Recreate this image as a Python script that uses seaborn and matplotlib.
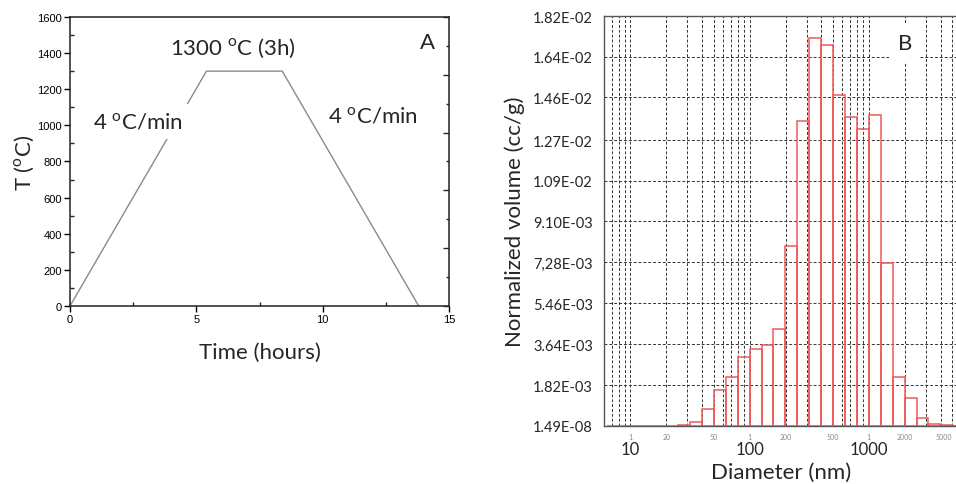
import numpy as np
import matplotlib
matplotlib.use("Agg")
import matplotlib.pyplot as plt
import matplotlib.ticker as mticker
import seaborn as sns

sns.set_style("ticks")
plt.rcParams["font.family"] = ["Lato", "DejaVu Sans"]
plt.rcParams["mathtext.fontset"] = "custom"
plt.rcParams["mathtext.rm"] = "Lato"

# ----------------------------
# Data: panel A (firing schedule)
# ----------------------------
time_h = [0, 5.4, 8.4, 13.8]
temp_c = [0, 1300, 1300, 0]
temp_ticks = [0, 200, 400, 600, 800, 1000, 1200, 1400, 1600]
time_ticks = [0, 5, 10, 15]

# ----------------------------
# Data: panel B (pore size distribution)
# log10 of bin edges, 0.1 decade per bin
# ----------------------------
log_edges = [0.8, 0.9, 1.0, 1.1, 1.2, 1.3, 1.4, 1.5, 1.6, 1.7, 1.8, 1.9, 2.0,
             2.1, 2.2, 2.3, 2.4, 2.5, 2.6, 2.7, 2.8, 2.9, 3.0, 3.1, 3.2, 3.3,
             3.4, 3.5, 3.6, 3.7, 3.8]
volume = [0, 0, 0, 0, 0, 0, 0.00005, 0.00017, 0.00074, 0.00159, 0.00216,
          0.00306, 0.00340, 0.00361, 0.00432, 0.00799, 0.01356, 0.01724,
          0.01693, 0.01470, 0.01371, 0.01320, 0.01381, 0.00726, 0.00216,
          0.00125, 0.00035, 0.00008, 0.00004, 0.00002]
vol_ticks = [0, 0.00182, 0.00364, 0.00546, 0.00728, 0.0091, 0.0109, 0.0127,
             0.0146, 0.0164, 0.0182]
vol_labels = ["1.49E-08", "1.82E-03", "3.64E-03", "5.46E-03", "7,28E-03",
              "9.10E-03", "1.09E-02", "1.27E-02", "1.46E-02", "1.64E-02",
              "1.82E-02"]
small_ticks = [10, 20, 50, 100, 200, 500, 1000, 2000, 5000]
small_labels = ["1", "20", "50", "1", "200", "500", "1", "2000", "5000"]
decade_ticks = [10, 100, 1000]

fig = plt.figure(figsize=(9.56, 4.85), dpi=100)

# ----------------------------
# Panel A
# ----------------------------
axA = fig.add_axes([0.0732, 0.367, 0.3965, 0.596])
sns.lineplot(x=time_h, y=temp_c, sort=False, color="#8a8a8a", lw=1.0, ax=axA)
axA.set_xlim(0, 15)
axA.set_ylim(0, 1600)
axA.set_xticks(time_ticks)
axA.set_yticks(temp_ticks)
axA.xaxis.set_minor_locator(mticker.MultipleLocator(2.5))
axA.yaxis.set_minor_locator(mticker.MultipleLocator(100))
axA.tick_params(which="major", direction="out", length=4, width=1,
                labelsize=8, pad=2, colors="black")
axA.tick_params(which="minor", direction="in", length=3, width=1)
for s in axA.spines.values():
    s.set_linewidth(1.1)
    s.set_color("#222222")
for lbl in axA.get_xticklabels() + axA.get_yticklabels():
    lbl.set_family(["Liberation Sans", "DejaVu Sans"])
axA.set_xlabel("Time (hours)", fontsize=16)
axA.xaxis.set_label_coords(0.5, -0.125)
axA.set_ylabel("T ($^{\\mathrm{o}}$C)", fontsize=16)
axA.yaxis.set_label_coords(-0.09, 0.5)

# right-hand ticks from the original plot
axR = axA.twinx()
axR.set_ylim(0, 1600)
axR.yaxis.set_major_locator(mticker.MultipleLocator(320))
axR.yaxis.set_minor_locator(mticker.MultipleLocator(160))
axR.tick_params(which="major", direction="in", length=4, width=1, labelright=False)
axR.tick_params(which="minor", direction="in", length=2, width=1)
for s in axR.spines.values():
    s.set_visible(False)

axA.text(2.7, 1020, "4 $^{\\mathrm{o}}$C/min", fontsize=16, ha="center", va="center",
         bbox=dict(facecolor="white", edgecolor="none", pad=5))
axA.text(6.45, 1430, "1300 $^{\\mathrm{o}}$C (3h)", fontsize=16, ha="center", va="center")
axA.text(12.0, 1050, "4 $^{\\mathrm{o}}$C/min", fontsize=16, ha="center", va="center")
axA.text(14.15, 1460, "A", fontsize=16, ha="center", va="center")

# ----------------------------
# Panel B
# ----------------------------
axB = fig.add_axes([0.6318, 0.1196, 0.3703, 0.845])
centers = [10 ** ((log_edges[i] + log_edges[i + 1]) / 2) for i in range(len(volume))]
sns.histplot(x=centers, weights=volume, bins=log_edges, log_scale=True,
             element="bars", fill=False, color="#f05a5a", linewidth=1.1, ax=axB)
axB.set_xlim(6, 5600)
axB.set_ylim(0, 0.0182)
axB.set_yticks(vol_ticks)
axB.set_yticklabels(vol_labels)
axB.xaxis.set_major_locator(mticker.FixedLocator(small_ticks))
axB.xaxis.set_major_formatter(mticker.FixedFormatter(small_labels))
axB.xaxis.set_minor_locator(mticker.LogLocator(base=10, subs=np.arange(2, 10), numticks=20))
axB.xaxis.set_minor_formatter(mticker.NullFormatter())
axB.tick_params(axis="x", which="both", length=0, labelsize=5, labelcolor="#888888", pad=5)
axB.tick_params(axis="y", length=0, labelsize=10.5, pad=8)
axB.get_xticklabels()[-1].set_horizontalalignment("right")
axB.grid(True, which="both", axis="x", linestyle=(0, (3, 2)), color="#333333", lw=0.7)
axB.grid(True, which="major", axis="y", linestyle=(0, (3, 2)), color="#333333", lw=0.7)
for s in axB.spines.values():
    s.set_linewidth(1.0)
    s.set_color("#555555")
axB.set_xlabel("Diameter (nm)", fontsize=16, labelpad=16)
axB.set_ylabel("Normalized volume (cc/g)", fontsize=16, labelpad=6)
for d in decade_ticks:
    axB.text(d, -0.055, str(d), transform=axB.get_xaxis_transform(),
             fontsize=12, ha="center", va="center")
axB.text(2000, 0.0170, "B", fontsize=16, ha="center", va="center",
         bbox=dict(facecolor="white", edgecolor="none", pad=6))

fig.savefig("out.png", dpi=100)
